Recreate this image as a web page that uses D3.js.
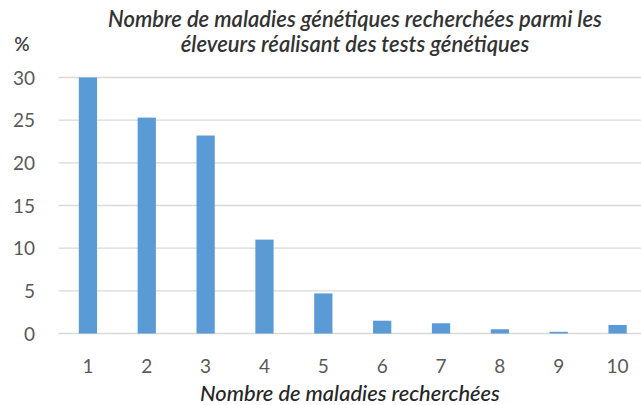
<!DOCTYPE html>
<html>
<head>
<meta charset="utf-8">
<script src="https://cdn.jsdelivr.net/npm/d3@7"></script>
<style>
  html, body { margin: 0; padding: 0; background: #fff; }
  svg { display: block; }
  text { font-family: Lato, "Open Sans", sans-serif; }
</style>
</head>
<body>
<svg id="chart" width="641" height="405"></svg>
<script>
// Number of genetic diseases screened (1..10) and share of breeders (%)
const categories = ["1", "2", "3", "4", "5", "6", "7", "8", "9", "10"];
const values = [30.0, 25.3, 23.2, 11.0, 4.7, 1.5, 1.2, 0.5, 0.2, 1.0];
const yTicks = [0, 5, 10, 15, 20, 25, 30];
const titleLines = [
  "Nombre de maladies génétiques recherchées parmi les",
  "éleveurs réalisant des tests génétiques"
];
const xTitle = "Nombre de maladies recherchées";
const yUnit = "%";

const svg = d3.select("#chart");
const plot = { left: 58.5, right: 647, top: 77.5, bottom: 333.5 };

const x = d3.scaleBand()
  .domain(categories)
  .range([plot.left, plot.right])
  .paddingInner(0.69)
  .paddingOuter(0.345);

const y = d3.scaleLinear()
  .domain([0, 30])
  .range([plot.bottom, plot.top]);

// Horizontal gridlines
svg.append("g")
  .selectAll("line")
  .data(yTicks)
  .join("line")
  .attr("x1", plot.left)
  .attr("x2", 641)
  .attr("y1", d => y(d))
  .attr("y2", d => y(d))
  .attr("stroke", "#d9d9d9")
  .attr("stroke-width", 1.3);

// Bars
svg.append("g")
  .selectAll("rect")
  .data(values)
  .join("rect")
  .attr("x", (d, i) => x(categories[i]))
  .attr("width", x.bandwidth())
  .attr("y", d => y(d))
  .attr("height", d => y(0) - y(d))
  .attr("fill", "#5b9bd5");

// Y axis labels
const yAxis = d3.axisLeft(y).tickValues(yTicks).tickSize(0).tickPadding(0).tickFormat(d3.format("d"));
const gy = svg.append("g").attr("transform", "translate(35,0)").call(yAxis);
gy.select(".domain").remove();
gy.selectAll("text")
  .attr("fill", "#595959")
  .style("font-family", "Lato, sans-serif")
  .style("font-size", "19px")
  .attr("dy", "0.35em");

// X axis labels
const xAxis = d3.axisBottom(x).tickSize(0).tickPadding(0);
const gx = svg.append("g").attr("transform", "translate(0,359)").call(xAxis);
gx.select(".domain").remove();
gx.selectAll("text")
  .attr("fill", "#595959")
  .style("font-family", "Lato, sans-serif")
  .style("font-size", "19px")
  .attr("dy", "0.71em");

// Unit label
svg.append("text")
  .attr("x", 22)
  .attr("y", 51)
  .attr("text-anchor", "middle")
  .attr("fill", "#404040")
  .style("font-size", "19px")
  .style("font-weight", "600")
  .text(yUnit);

// Title
const title = svg.append("g");
const tl = title.selectAll("text")
  .data(titleLines)
  .join("text")
  .attr("x", 355)
  .attr("y", (d, i) => 26.5 + i * 25.5)
  .attr("text-anchor", "middle")
  .attr("fill", "#333333")
  .style("font-style", "italic")
  .style("font-weight", "600")
  .style("font-size", "100px")
  .text(d => d);
// Size the title so the first line spans the intended width
const w0 = tl.nodes()[0].getComputedTextLength();
tl.style("font-size", (494 / w0 * 100).toFixed(2) + "px");

// X axis title
const xt = svg.append("text")
  .attr("x", 350)
  .attr("y", 401)
  .attr("text-anchor", "middle")
  .attr("fill", "#262626")
  .style("font-style", "italic")
  .style("font-weight", "500")
  .style("font-size", "100px")
  .text(xTitle);
const w1 = xt.node().getComputedTextLength();
xt.style("font-size", (300 / w1 * 100).toFixed(2) + "px");
</script>
</body>
</html>
